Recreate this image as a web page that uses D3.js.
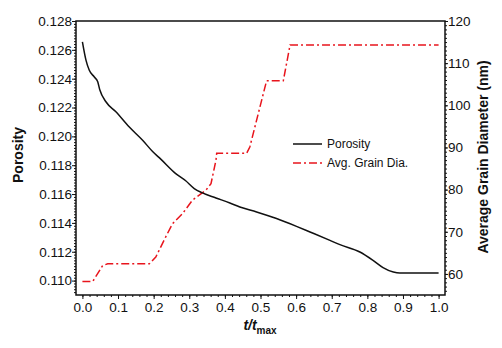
<!DOCTYPE html>
<html>
<head>
<meta charset="utf-8">
<script src="https://cdn.jsdelivr.net/npm/d3@7"></script>
<style>
  body { margin: 0; background: #fff; }
  text { font-family: "Liberation Sans", Arial, sans-serif; fill: #111; }
</style>
</head>
<body>
<div id="chart"></div>
<script>
// porosity curve (left axis)
var porT = [0.0, 0.01, 0.019, 0.033, 0.043, 0.049, 0.066, 0.094, 0.131, 0.169, 0.197,
            0.22, 0.262, 0.29, 0.314, 0.337, 0.375, 0.414, 0.442, 0.489, 0.545, 0.601,
            0.639, 0.695, 0.723, 0.779, 0.816, 0.844, 0.873, 0.891, 1.0];
var porosity = [0.12656, 0.12529, 0.1246, 0.12413, 0.12378, 0.12321, 0.1224, 0.1217,
                0.12066, 0.11973, 0.11895, 0.11842, 0.11742, 0.11692, 0.11638, 0.11608,
                0.11573, 0.11538, 0.1151, 0.11476, 0.1143, 0.11376, 0.11337, 0.11279,
                0.11249, 0.11198, 0.1114, 0.1109, 0.11059, 0.11052, 0.11052];

// grain diameter curve (right axis, nm)
var grainT = [0.0, 0.029, 0.057, 0.071, 0.188, 0.206, 0.234, 0.253, 0.281, 0.309, 0.347,
              0.361, 0.375, 0.377, 0.461, 0.47, 0.517, 0.564, 0.583, 1.0];
var grain = [58.2, 58.2, 62.0, 62.4, 62.4, 64.0, 68.8, 71.9, 74.3, 77.5, 79.9,
             81.4, 87.0, 88.6, 88.6, 90.1, 105.8, 105.8, 114.3, 114.3];

var xTicks = [0, 0.1, 0.2, 0.3, 0.4, 0.5, 0.6, 0.7, 0.8, 0.9, 1.0];
var leftTicks = [0.110, 0.112, 0.114, 0.116, 0.118, 0.120, 0.122, 0.124, 0.126, 0.128];
var rightTicks = [60, 70, 80, 90, 100, 110, 120];
var seriesNames = ["Porosity", "Avg. Grain Dia."];

var width = 502, height = 348;
var plotLeft = 76, plotRight = 445, plotTop = 21, plotBottom = 295;

var svg = d3.select("#chart").append("svg")
    .attr("width", width)
    .attr("height", height);

var x = d3.scaleLinear().domain([-0.018, 1.018]).range([plotLeft, plotRight]);
var yL = d3.scaleLinear().domain([0.109, 0.128]).range([plotBottom, plotTop]);
var yR = d3.scaleLinear().domain([55, 120]).range([plotBottom, plotTop]);

// minor tick values between from and to
function minor(from, to, step) {
  var out = [];
  for (var v = from; v <= to + step / 2; v += step) out.push(+v.toFixed(6));
  return out;
}

// minor ticks first, majors drawn over them
svg.append("g")
    .attr("transform", "translate(0," + plotBottom + ")")
    .call(d3.axisBottom(x).tickValues(minor(0, 1.0, 0.02)).tickSize(2).tickFormat(""))
    .call(function(g) { g.select(".domain").remove(); });
svg.append("g")
    .attr("transform", "translate(" + plotLeft + ",0)")
    .call(d3.axisLeft(yL).tickValues(minor(0.1092, 0.128, 0.0002)).tickSize(2).tickFormat(""))
    .call(function(g) { g.select(".domain").remove(); });
svg.append("g")
    .attr("transform", "translate(" + plotRight + ",0)")
    .call(d3.axisRight(yR).tickValues(minor(56, 120, 1)).tickSize(2).tickFormat(""))
    .call(function(g) { g.select(".domain").remove(); });

var xAxis = svg.append("g")
    .attr("transform", "translate(0," + plotBottom + ")")
    .call(d3.axisBottom(x).tickValues(xTicks).tickSize(4).tickPadding(3).tickFormat(d3.format(".1f")));
var lAxis = svg.append("g")
    .attr("transform", "translate(" + plotLeft + ",0)")
    .call(d3.axisLeft(yL).tickValues(leftTicks).tickSize(4).tickPadding(0).tickFormat(d3.format(".3f")));
var rAxis = svg.append("g")
    .attr("transform", "translate(" + plotRight + ",0)")
    .call(d3.axisRight(yR).tickValues(rightTicks).tickSize(3).tickPadding(0).tickFormat(d3.format("d")));

[xAxis, lAxis, rAxis].forEach(function(a) {
  a.selectAll(".domain").remove();
  a.selectAll("text").style("font-size", "13.5px").attr("fill", "#111");
});
svg.selectAll(".tick line").attr("stroke", "#111");

// frame
svg.append("rect")
    .attr("x", plotLeft)
    .attr("y", plotTop)
    .attr("width", plotRight - plotLeft)
    .attr("height", plotBottom - plotTop)
    .attr("fill", "none")
    .attr("stroke", "#111")
    .attr("stroke-width", 1.5);

// lines
var porLine = d3.line()
    .x(function(d, i) { return x(porT[i]); })
    .y(function(d) { return yL(d); })
    .curve(d3.curveMonotoneX);
var grainLine = d3.line()
    .x(function(d, i) { return x(grainT[i]); })
    .y(function(d) { return yR(d); });

svg.append("path")
    .attr("d", grainLine(grain))
    .attr("fill", "none")
    .attr("stroke", "#e8141c")
    .attr("stroke-width", 1.5)
    .attr("stroke-dasharray", "8,3,2,3");

svg.append("path")
    .attr("d", porLine(porosity))
    .attr("fill", "none")
    .attr("stroke", "#111")
    .attr("stroke-width", 1.5);

// legend
var legend = svg.selectAll(".legend")
    .data(seriesNames)
  .enter().append("g")
    .attr("class", "legend")
    .attr("transform", function(d, i) { return "translate(293," + (144 + i * 19) + ")"; });

legend.append("line")
    .attr("x1", 0)
    .attr("x2", 29)
    .attr("stroke", function(d, i) { return i == 0 ? "#111" : "#e8141c"; })
    .attr("stroke-width", 1.5)
    .attr("stroke-dasharray", function(d, i) { return i == 0 ? null : "8,3,2,3"; });

legend.append("text")
    .attr("x", 34)
    .attr("dy", ".35em")
    .style("font-size", "12px")
    .text(function(d) { return d; });

// axis titles
svg.append("text")
    .attr("transform", "translate(23,155) rotate(-90)")
    .attr("text-anchor", "middle")
    .style("font-size", "14px")
    .style("font-weight", "bold")
    .text("Porosity");

svg.append("text")
    .attr("transform", "translate(488,157) rotate(-90)")
    .attr("text-anchor", "middle")
    .style("font-size", "14px")
    .style("font-weight", "bold")
    .text("Average Grain Diameter (nm)");

var xt = svg.append("text")
    .attr("x", 260)
    .attr("y", 330)
    .attr("text-anchor", "middle")
    .style("font-size", "14px")
    .style("font-weight", "bold");
xt.append("tspan").style("font-style", "italic").text("t/t");
xt.append("tspan")
    .attr("dy", 4)
    .style("font-size", "10px")
    .text("max");
</script>
</body>
</html>
